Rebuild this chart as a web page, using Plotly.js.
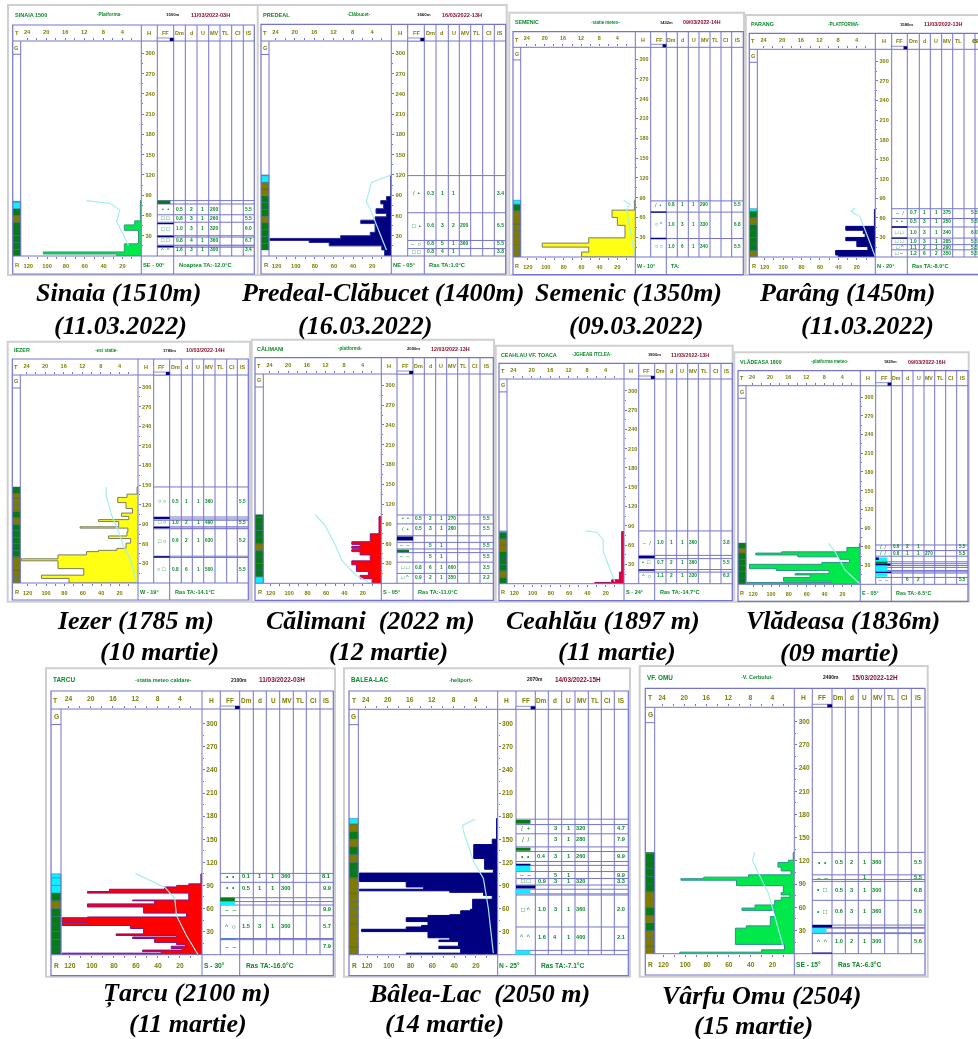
<!DOCTYPE html>
<html><head><meta charset="utf-8">
<script src="https://cdn.plot.ly/plotly-3.0.1.min.js"></script>
<style>html,body{margin:0;padding:0;background:#fff}#c{width:978px;height:1039px;filter:blur(0.4px)}</style>
</head><body><div id="c"></div>
<script>
// ---------- DATA: depth layers (edges in m, R value per layer), temperature, clouds, table ----------
const sinaiaEdges=[0,3,6,18,38,46,52,82];
const sinaiaR=[26,104,18,3,18,7,1];
const sinaiaTemp=[11.5,6.6,4.5,5.2,2.7];
const sinaiaTempH=[82,78,68,51,16];
const sinaiaCloudEdges=[0,50,60,70,81];
const sinaiaCloudCodes=['G','O','G','C'];
const sinaiaLines=[82,77,61,50,30,28,16,15,13];
const sinaiaBands=[[77,82,'G',0.8],[47,49,'N',1],[28,30,'N',1],[13,15,'N',1]];
const sinaiaRows=[[69,'•  •','0.5','2','1','200','5.5'],[56,'□ □','0.8','3','1','260','5.5'],[40,'□ □','1.0','3','1','320','6.0'],[23,'□ □','0.8','4','1','360','6.7'],[9,'^  ^','1.6','3','1','300','3.4']];

const predealEdges=[0,9,15,20,23,26,30,35,48,53,58,63,70,77,82,88,120];
const predealR=[7,10,65,86,127,53,22,17,32,17,5,16,8,11,5,0.5];
const predealTemp=[0,4.1,5.2,4.4,1];
const predealTempH=[120,109,80,70,9];
const predealCloudEdges=[9,49,59,89,109,120];
const predealCloudCodes=['G','O','G','O','C'];
const predealLines=[119,64,23,11];
const predealBands=[];
const predealRows=[[93,'/  •','0.3','1','1','','3.4'],[45,'□  •','0.6','3','2','200','6.5'],[18,'–  ○','0.8','5','1','360','5.5'],[6,'□ □','0.8','4','1','','3.8']];

const semenicEdges=[0,7.5,15,21,29,48,60,71,86];
const semenicR=[60,52,104,52,11.5,20,26,1];
const semenicTemp=[2.6,1.2,1.9,0.1];
const semenicTempH=[86,80,72,0];
const semenicCloudEdges=[0,70,80,86];
const semenicCloudCodes=['O','G','C'];
const semenicLines=[85,68,28];
const semenicBands=[[67,69,'N',1],[27,29,'N',1]];
const semenicRows=[[79,'/  •','0.8','1','1','290','5.5'],[50,'○ ^','1.0','3','1','330','6.8'],[16,'○ ○','1.0','6','1','340','5.5']];

const parangEdges=[0,3,10,16,25,30,36,41,47,73];
const parangR=[40,43,8,20,32,11,13,32,1];
const parangTemp=[4.4,5.2,3.3,1.1,0];
const parangTempH=[75,70,62,21,0];
const parangCloudEdges=[0,10,50,60,70,74];
const parangCloudCodes=['O','G','O','G','C'];
const parangLines=[74,59,46,29,19,11];
const parangBands=[[45,47,'N',1],[28,30,'N',1]];
const parangRows=[[68,'–  /','0.7','1','1','375','5.5'],[55,'•  •','0.5','3','1','250','5.5'],[38,'□ □','1.0','3','1','340','6.0'],[24,'□ □','1.0','3','1','285','5.5'],[15,'□ ^','1.1','2','1','290','5.5'],[6,'□ –','1.2','6','2','350','5.5']];

const iezerEdges=[0,7,12,22,34,37,43,48,50,53,61,68,72,78,84,86,94,97,102,107,114,123,131,136,147];
const iezerR=[75,105,59,87,127,87,56,43,23,13,8,32,12,11,63,21,43,10,18,6,13,22,12,1];
const iezerTemp=[6.8,6.9,5.7,4.2,3.2,1.7,0.3];
const iezerTempH=[147,135,104,79,58,38,0];
const iezerCloudEdges=[0,40,90,100,110,137,147];
const iezerCloudCodes=['O','G','O','G','O','G'];
const iezerLines=[147,101,98,96,86,84,83,41,39];
const iezerBands=[[98,101,'N',1],[84,86,'N',1],[39,41,'N',1]];
const iezerRows=[[125.5,'○ ○','0.5','1','1','360','5.5'],[93,'□ ○','1.0','2','1','490','5.5'],[65,'□ ○','0.6','2','1','630','5.2'],[21,'○ □','0.8','6','1','500','5.5']];

const calimaniEdges=[0,7,12,18,28,34,43,48,51,53,56,59,63,75,101];
const calimaniR=[10,23,14,27,32,12,23,32,23,32,23,32,12,2.5];
const calimaniTemp=[14.2,12.1,9.9,8.5,5.6,2.4];
const calimaniTempH=[104,88,58,35,13,0];
const calimaniCloudEdges=[0,10,50,60,104];
const calimaniCloudCodes=['C','G','O','G'];
const calimaniLines=[103.5,90,72,62,52,46.5,32,15];
const calimaniBands=[[65,71,'N',1],[47,51,'G',0.75]];
const calimaniRows=[[98.5,'•  •','0.5','2','1','270','5.5'],[83,'/  •','0.5','3','1','260','5.5'],[58,'–  –','','5','1','','5.5'],[41,'–  –','','5','1','','5.5'],[24,'□ □','0.8','6','1','600','3.5'],[9,'□ ^','0.9','2','1','350','2.2']];

const ceahlauEdges=[0,2,6,18,81];
const ceahlauR=[32,13.5,5,2.5];
const ceahlauTemp=[8.3,5.9,4.5,4.5,2];
const ceahlauTempH=[82,80,68,50,3];
const ceahlauCloudEdges=[0,10,20,50,70,80,82];
const ceahlauCloudCodes=['G','O','G','O','G','C'];
const ceahlauLines=[82,44,39,22,18];
const ceahlauBands=[[40,43,'N',1],[20,22,'N',1]];
const ceahlauRows=[[64,'–  /','1.0','1','1','360','3.8'],[33,'•  □','0.7','2','1','360','5.5'],[12,'^  ○','1.1','2','1','330','6.2']];

const vladeasaEdges=[0,3,5,11,15,17,22,25,32,35,40,44,47,50,52,59,65];
const vladeasaR=[127,32,86,56,73,35,94,124,43,12,23,70,117,88,15,1];
const vladeasaTemp=[7.1,5.6,3.4,0];
const vladeasaTempH=[66,52,23,0];
const vladeasaCloudEdges=[0,50,58,66];
const vladeasaCloudCodes=['G','O','G'];
const vladeasaLines=[63,54,45,36,33,30,27,22,20,18,11];
const vladeasaBands=[[36,43,'C',0.75],[39,43,'N',0.2],[33,36,'G',0.75],[30,33,'N',0.95],[12,30,'C',0.75],[18,20,'N',1]];
const vladeasaRows=[[60,'/  /','0.6','2','1','','5.5'],[50,'/  /','0.6','1','1','270','5.5'],[7.5,'–  –','','6','2','','5.5']];

const tarcuEdges=[0,2,4,6,8,11,13,16,21,23,25,27,34,38,41,42,48,49,54,62,66,70,71,80,82,85,88,90,92,105];
const tarcuR=[127,37,54,18,28,15,23,43,63,23,78,53,65,127,104,127,104,14,53,104,43,63,12,104,84,34,23,12,1];
const tarcuTemp=[12,6.6,4.9,4.6,2.8,0.7];
const tarcuTempH=[105.6,87,73,51,25,0];
const tarcuCloudEdges=[0,60,70,80,105];
const tarcuCloudCodes=['G','O','G','C'];
const tarcuLines=[105.6,94,74,69,64.5,50.6,21,19.5];
const tarcuBands=[[69,74,'G',0.75],[64.5,69,'C',0.75],[19.5,21,'B',0.75]];
const tarcuRows=[[102,'•  •','0.1','1','1','360','8.1'],[87,'•  •','0.5','1','1','300','9.9'],[59,'–  –','','','','','9.9'],[37,'^  ○','1.5','3','1','300','5.7'],[11,'–  –','','','','','7.9']];

const baleaEdges=[0,2,8,11,17,19,22,30,33,36,38,43,48,51,52,57,59,72,77,81,83,85,88,95,97,106,111,125,139,143,150,177];
const baleaR=[84,34,54,36,54,44,64,125,84,70,64,84,64,44,34,25,23,5,13,44,127,68,84,127,127,4,12,22,22,5,1];
const baleaTemp=[4.1,6.4,6.2,4.4,2.6,1.7,0.8];
const baleaTempH=[176,168,160,121,99,60,2];
const baleaCloudEdges=[0,100,120,130,140,150,160,170,177];
const baleaCloudCodes=['O','G','O','G','O','G','O','C'];
const baleaLines=[176,169,157,140,134,121,116,108,99,90.5,85,79,77.5,36,5.6];
const baleaBands=[[170,175,'G',0.75],[135,139,'G',0.75],[108,116,'C',0.75],[116,118,'N',0.75],[86,90,'N',1],[79,85,'C',0.75],[0,5.6,'C',0.75]];
const baleaRows=[[164.5,'/  +','','3','1','320','4.7'],[150,'/  /','','3','1','280','7.9'],[128,'•  •','0.4','3','1','260','9.9'],[104,'–  –','','5','1','','9.9'],[96,'□ □','0.9','3','1','320','3.3'],[59,'□ ^','1.0','3','1','360','2.0'],[23,'^  ^','1.6','4','1','400','2.1']];

const omuEdges=[0,2,5,12,33,36,48,56,59,63,69,73,76,79,88,95,97,99,102,107,112,118,121,131];
const omuR=[105,30,9,54,44,22,18,48,36,18,12,4,12,10,53,104,83,42,3,12,15,5.5,1];
const omuTemp=[7.2,7.6,6.5,4.7,2];
const omuTempH=[131,120,104,78,9];
const omuCloudEdges=[0,30,40,50,60,80,131];
const omuCloudCodes=['O','G','O','G','O','G'];
const omuLines=[131,102,96,93.5,69,37,34,33,27,26];
const omuBands=[[34,37,'N',1],[27,33,'C',0.72],[0,1.5,'N',1]];
const omuRows=[[118,'•  •','0.5','2','1','360','5.5'],[99,'–  –','','','1','','5.5'],[83,'•  □','0.5','3','1','300','6.8'],[55,'•  □','0.6','3','1','360','5.6'],[16,'^  ^','1.0','2','1','300','5.6']];

const stationNames=['SINAIA 1500','PREDEAL','SEMENIC','PARANG','IEZER','CĂLIMANI','CEAHLAU VF. TOACA','VLĂDEASA 1800','TARCU','BALEA-LAC','VF. OMU'];
const stationPlaces=['-Platforma-','-Clăbucet-','-statie meteo-','-PLATFORMA-','-est statie-','-platformă-','-JGHEAB ITCLEA-','-platforma meteo-','-statia meteo caldare-','-heliport-','-V. Cerbului-'];
const stationAlts=['1500m','1660m','1432m','1580m','1780m','2050m','1800m','1820m','2100m','2070m','2490m'];
const stationDates=['11/03/2022-03H','16/03/2022-13H','09/03/2022-14H','11/03/2022-13H','10/03/2022-14H','12/03/2022-13H','11/03/2022-13H','09/03/2022-16H','11/03/2022-03H','14/03/2022-15H','15/03/2022-12H'];
const stationWinds=['SE - 00°','NE - 05°','W - 10°','N - 20°','W - 19°','S - 05°','S - 24°','E - 05°','S - 30°','N - 25°','SE - 15°'];
const stationNotes=['Noaptea TA:-12.0°C','Ras TA:1.0°C','TA:','Ras TA:-8.0°C','Ras TA:-14.1°C','Ras TA:-11.0°C','Ras TA:-14.7°C','Ras TA:-6.5°C','Ras TA:-16.0°C','Ras TA:-7.1°C','Ras TA:-6.3°C'];
const captionLines=[['Sinaia (1510m)',118,292],['(11.03.2022)',120,325],['Predeal-Clăbucet (1400m)',382,292],['(16.03.2022)',365,325],['Semenic (1350m)',628,292],['(09.03.2022)',636,325],['Parâng (1450m)',847,292],['(11.03.2022)',867,325],['Iezer (1785 m)',135,620],['(10 martie)',159,651],['Călimani  (2022 m)',370,620],['(12 martie)',388,651],['Ceahlău (1897 m)',603,620],['(11 martie)',617,651],['Vlădeasa (1836m)',843,620],['(09 martie)',839,652],['Țarcu (2100 m)',187,993],['(11 martie)',188,1023],['Bâlea-Lac  (2050 m)',479,993],['(14 martie)',444,1023],['Vârfu Omu (2504)',761,995],['(15 martie)',753,1025]];
const headerLabels=['FF','Dm','d','U','MV','TL','CI','IS'];
const rTicks=[20,40,60,80,100,120];
const tTicks=[4,8,12,16,20,24];
const hTicks=[30,60,90,120,150,180,210,240,270,300];

// ---------- page geometry of each panel (pixels) ----------
const frames=[
 {f:[8,5,260,275],i:[12.7,25,254.3,274],ax:41,b:256,h300:53.3,c:[20.7,141.3,157.3,173.7,185.3,197,208.7,220,231.7,243.3]},
 {f:[257.7,5,506.7,275],i:[261,24.3,505.7,274],ax:41,b:256,h300:53.3,c:[269,391.3,407.7,424.3,436,448.3,459.3,470.7,482.7,494.3]},
 {f:[509.3,12.7,744,275],i:[513,31.7,743.3,274.7],ax:47.3,b:257,h300:59,c:[520.7,635.3,650.7,666.3,677.3,688.3,699,710,721,731.7]},
 {f:[745.7,15,990,275],i:[749.3,33.3,986,274.3],ax:49.3,b:257,h300:61.3,c:[757.3,875.3,891.7,907.3,919.3,930.3,941.7,952.7,964,975]},
 {f:[7.7,341.7,250,601.7],i:[12.3,359,248.3,600],ax:375,b:583,h300:387,c:[20.3,138,153.7,169.7,181.3,192.3,203.7,215,226.7,237.3]},
 {f:[251.7,339.7,494,601.7],i:[255,357.7,493.3,600.3],ax:374,b:583.3,h300:385.3,c:[263.3,381.3,397,413,424.3,435.7,446.7,457.7,469,480]},
 {f:[495.7,345.7,732.7,601.7],i:[499,363.3,732.3,600.7],ax:379,b:583.7,h300:390.7,c:[507,624,638.7,654.7,666,676.7,687.7,698.3,710,721]},
 {f:[734.3,352.3,968.7,601.7],i:[738,370.7,968,601.3],ax:385.7,b:584.3,h300:397,c:[746,860.3,875.7,891.3,902.3,913,924,934.7,945.7,956.7]},
 {f:[46,668.3,335,976.7],i:[51,691,333.3,975.7],ax:709,b:954.7,h300:723.7,c:[61,202,220.3,239.7,253.3,266.3,279.7,293.3,306.3,320]},
 {f:[344,668.3,630,976.7],i:[349,691,628.3,975.7],ax:709.3,b:954.7,h300:723.7,c:[358.3,497.7,516,535.3,548.3,561.7,575,588.3,601.3,614.3]},
 {f:[639.7,666,927.7,976.7],i:[645.3,688.3,925,975],ax:707.3,b:953.7,h300:721.7,c:[654.7,794.3,812.3,832,845.3,858.3,871.3,884.7,898,911.3]}
];
const stationData=[
 [sinaiaEdges,sinaiaR,sinaiaTemp,sinaiaTempH,sinaiaCloudEdges,sinaiaCloudCodes,sinaiaLines,sinaiaBands,sinaiaRows],
 [predealEdges,predealR,predealTemp,predealTempH,predealCloudEdges,predealCloudCodes,predealLines,predealBands,predealRows],
 [semenicEdges,semenicR,semenicTemp,semenicTempH,semenicCloudEdges,semenicCloudCodes,semenicLines,semenicBands,semenicRows],
 [parangEdges,parangR,parangTemp,parangTempH,parangCloudEdges,parangCloudCodes,parangLines,parangBands,parangRows],
 [iezerEdges,iezerR,iezerTemp,iezerTempH,iezerCloudEdges,iezerCloudCodes,iezerLines,iezerBands,iezerRows],
 [calimaniEdges,calimaniR,calimaniTemp,calimaniTempH,calimaniCloudEdges,calimaniCloudCodes,calimaniLines,calimaniBands,calimaniRows],
 [ceahlauEdges,ceahlauR,ceahlauTemp,ceahlauTempH,ceahlauCloudEdges,ceahlauCloudCodes,ceahlauLines,ceahlauBands,ceahlauRows],
 [vladeasaEdges,vladeasaR,vladeasaTemp,vladeasaTempH,vladeasaCloudEdges,vladeasaCloudCodes,vladeasaLines,vladeasaBands,vladeasaRows],
 [tarcuEdges,tarcuR,tarcuTemp,tarcuTempH,tarcuCloudEdges,tarcuCloudCodes,tarcuLines,tarcuBands,tarcuRows],
 [baleaEdges,baleaR,baleaTemp,baleaTempH,baleaCloudEdges,baleaCloudCodes,baleaLines,baleaBands,baleaRows],
 [omuEdges,omuR,omuTemp,omuTempH,omuCloudEdges,omuCloudCodes,omuLines,omuBands,omuRows]
];
// styles per panel: fill, outline
const palette=[['#00e84a','#2f9a7a'],['#000080','#2a2a9a'],['#ffff14','#7a7a60'],['#000080','#000080'],['#ffff14','#7a7a60'],['#ff0000','#8a108a'],['#e0003c','#901070'],['#00e84a','#2f8f8f'],['#ff0000','#7a1090'],['#000080','#000080'],['#00e84a','#2f8f8f']];
const CODE={G:'#087a18',O:'#807a00',C:'#14ecff',N:'#000080',B:'#2a90d8'};
const BLUE='#7474cc',OLIVE='#7d7d00',GREEN='#0a8a2a',TEMP='#a4eef2';
const W=978,H=1039,RMAX=128,TDIV=5.05;
const px=x=>x/W, py=y=>1-y/H;

const traces=[],shapes=[],annots=[],layout={width:W,height:H,margin:{l:0,r:0,t:0,b:0},paper_bgcolor:'#fff',plot_bgcolor:'rgba(0,0,0,0)',showlegend:false,barmode:'overlay',hovermode:false};
function pline(x0,y0,x1,y1,color,w){shapes.push({type:'line',xref:'paper',yref:'paper',x0:px(x0),x1:px(x1),y0:py(y0),y1:py(y1),line:{color:color||BLUE,width:w||1}});}
function txt(x,y,t,size,color,anchor,bold,yref){annots.push({xref:'paper',yref:yref||'paper',x:px(x),y:yref?y:py(y),text:t,showarrow:false,xanchor:anchor||'center',yanchor:'middle',font:{family:'Liberation Sans',size:size,color:color,weight:bold?700:400},borderpad:0,borderwidth:0});}
// text that would fall past the page's right edge is pulled back against it
function cell(x,y,t,size,color,bold,yref){ if(x>969) txt(977.5,y,t,size,color,'right',bold,yref); else txt(x,y,t,size,color,'center',bold,yref); }

frames.forEach((g,i)=>{
 const [edges,rv,tv,th,ce,cc,lines,bands,rows]=stationData[i];
 const [L,T,RR,Bo]=g.i, [G,Hx,FF,Dm,dC,U,MV,TL,CI,IS]=g.c;
 const s=(Hx-G)/118;
 const xR='x'+(2*i+1), xT='x'+(2*i+2), yy='y'+(i+1);
 const ppr=(Hx-G)/RMAX, rLeft=(Hx-L)/ppr;
 const top=(g.b-g.ax)/((g.b-g.h300)/300);
 const tickFont={family:'Liberation Sans',size:5.6*s,color:OLIVE,weight:700};
 const axisCommon={anchor:yy,showgrid:false,zeroline:false,showline:false,ticks:'outside',ticklen:2,tickwidth:1,tickcolor:BLUE,tickfont:tickFont,fixedrange:true};
 const minor10=[];for(let v=10;v<=120;v+=10)minor10.push(v);
 const minor2=[];for(let v=2;v<=24;v+=2)minor2.push(v);
 layout['xaxis'+(2*i+1)]=Object.assign({},axisCommon,{domain:[px(L),px(Hx)],range:[rLeft,0],side:'bottom',tickmode:'array',tickvals:rTicks,ticktext:rTicks.map(String),minor:{tickmode:'array',tickvals:minor10,ticks:'outside',ticklen:2,tickcolor:BLUE,showgrid:false},ticklabelstandoff:2});
 layout['xaxis'+(2*i+2)]=Object.assign({},axisCommon,{domain:[px(L),px(Hx)],range:[rLeft/TDIV,0],side:'top',overlaying:xR,tickmode:'array',tickvals:tTicks,ticktext:tTicks.map(String),minor:{tickmode:'array',tickvals:minor2,ticks:'outside',ticklen:2,tickcolor:BLUE,showgrid:false},ticklabelstandoff:2});
 layout['yaxis'+(i+1)]={domain:[py(g.b),py(g.ax)],range:[0,top],anchor:xR,side:'right',showgrid:false,zeroline:false,showline:false,ticks:'outside',ticklen:2,tickwidth:1,tickcolor:BLUE,tickfont:tickFont,tickmode:'array',tickvals:hTicks,ticktext:hTicks.map(String),minor:{tickmode:'array',tickvals:[15,45,75,105,135,165,195,225,255,285],ticks:'outside',ticklen:1,tickcolor:BLUE,showgrid:false},fixedrange:true};

 // cloud column
 const cx=[],cy=[],cw=[],cc2=[];
 cc.forEach((code,k)=>{for(let h=ce[k];h<ce[k+1];h+=10){const sz=Math.min(10,ce[k+1]-h);cy.push(h+sz/2);cw.push(sz);cx.push(rLeft-RMAX);cc2.push(CODE[code]);}});
 traces.push({type:'bar',orientation:'h',xaxis:xR,yaxis:yy,x:cx,y:cy,width:cw,base:cx.map(()=>RMAX),marker:{color:cc2,line:{color:'#2a6a8a',width:0.5}},hoverinfo:'skip'});

 // stepped profile
 const sx=[0],sy=[edges[0]];
 rv.forEach((v,k)=>{sx.push(v,v);sy.push(edges[k],edges[k+1]);});
 sx.push(0);sy.push(edges[edges.length-1]);
 traces.push({type:'scatter',mode:'lines',xaxis:xR,yaxis:yy,x:sx,y:sy,fill:'toself',fillcolor:palette[i][0],line:{color:palette[i][1],width:1,simplify:false},hoverinfo:'skip'});
 // temperature
 traces.push({type:'scatter',mode:'lines',xaxis:xT,yaxis:yy,x:tv,y:th,line:{color:TEMP,width:1.2,simplify:false},hoverinfo:'skip'});

 // frames and grid
 shapes.push({type:'rect',xref:'paper',yref:'paper',x0:px(g.f[0]),x1:px(g.f[2]),y0:py(g.f[3]),y1:py(g.f[1]),line:{color:'#cfcfcf',width:2},fillcolor:'#fff',layer:'below'});
 shapes.push({type:'rect',xref:'paper',yref:'paper',x0:px(L),x1:px(RR),y0:py(Bo),y1:py(T),line:{color:BLUE,width:1.2},fillcolor:'rgba(0,0,0,0)'});
 pline(L,g.ax,RR,g.ax); pline(L,g.b,RR,g.b);
 pline(G,g.ax,G,g.b); pline(L,g.ax+13*s,G,g.ax+13*s);
 pline(Hx,T,Hx,Bo); pline(Dm,T,Dm,Bo);
 [FF,dC,U,MV,TL,CI,IS].forEach(x=>pline(x,T,x,g.b));
 // small FF header bar
 shapes.push({type:'rect',xref:'paper',yref:'paper',x0:px(FF),x1:px(Dm),y0:py(g.ax),y1:py(g.ax-3),line:{color:BLUE,width:0.8},fillcolor:'#fff'});
 shapes.push({type:'rect',xref:'paper',yref:'paper',x0:px(FF+(Dm-FF)*0.76),x1:px(Dm),y0:py(g.ax),y1:py(g.ax-3),line:{width:0},fillcolor:'#000080'});

 // table rules and bands from heights
 lines.forEach(h=>shapes.push({type:'line',xref:'paper',yref:yy,x0:px(FF),x1:px(RR),y0:h,y1:h,line:{color:BLUE,width:1}}));
 bands.forEach(b=>shapes.push({type:'rect',xref:'paper',yref:yy,x0:px(FF),x1:px(FF+(Dm-FF)*b[3]),y0:b[0],y1:b[1],line:{width:0},fillcolor:CODE[b[2]]}));

 // header texts
 const w=RR-L, hy=(g.f[1]+T)/2;
 txt(L+2,hy,stationNames[i],5.4*s,GREEN,'left',true);
 txt(L+w*0.40,hy,stationPlaces[i],4.6*s,GREEN,'center',true);
 txt(L+w*0.665,hy,stationAlts[i],4.2*s,'#111','center',true);
 txt(L+w*0.82,hy,stationDates[i],5.4*s,'#8a1030','center',true);
 const ry=(T+g.ax)/2, by=(g.b+Bo)/2;
 txt(L+4*s,ry,'T',5.6*s,OLIVE,'center',true);
 txt(L+2.5*s,by,'R',5.6*s,OLIVE,'left',true);
 txt((G+L)/2,g.ax+6.5*s,'G',5.6*s,OLIVE,'center',true);
 txt((Hx+FF)/2,ry,'H',5.6*s,OLIVE,'center',true);
 const cols=[FF,Dm,dC,U,MV,TL,CI,IS,RR];
 headerLabels.forEach((t,k)=>cell((cols[k]+cols[k+1])/2,ry,t,5.4*s,OLIVE,true));
 txt(Hx+1.5,by,stationWinds[i],5.6*s,GREEN,'left',true);
 txt(Dm+5*s,by,stationNotes[i],5.6*s,GREEN,'left',true);

 // table cells
 rows.forEach(r=>{
  const [h,sym,a,b,c,d,e]=r;
  txt((FF+Dm)/2,h,sym.replace(/ /g,'\u00a0'),5.6*s,GREEN,'center',false,yy);
  const f=4.8*s;
  if(a)txt((Dm+dC)/2,h,a,f,GREEN,'center',true,yy);
  if(b)txt((dC+U)/2,h,b,f,GREEN,'center',true,yy);
  if(c)txt((U+MV)/2,h,c,f,GREEN,'center',true,yy);
  if(d)txt(MV+1,h,d,f,GREEN,'left',true,yy);
  if(e)cell((IS+RR)/2,h,e,f,GREEN,true,yy);
 });
});
captionLines.forEach(c=>{annots.push({xref:'paper',yref:'paper',x:px(c[1]),y:py(c[2]),text:c[0].replace(/  /g,'\u00a0\u00a0'),showarrow:false,xanchor:'center',yanchor:'middle',font:{family:'Liberation Serif',size:26,color:'#000',weight:700,style:'italic'}});});
layout.shapes=shapes;layout.annotations=annots;
Plotly.newPlot('c',traces,layout,{displayModeBar:false,staticPlot:true});
</script></body></html>
